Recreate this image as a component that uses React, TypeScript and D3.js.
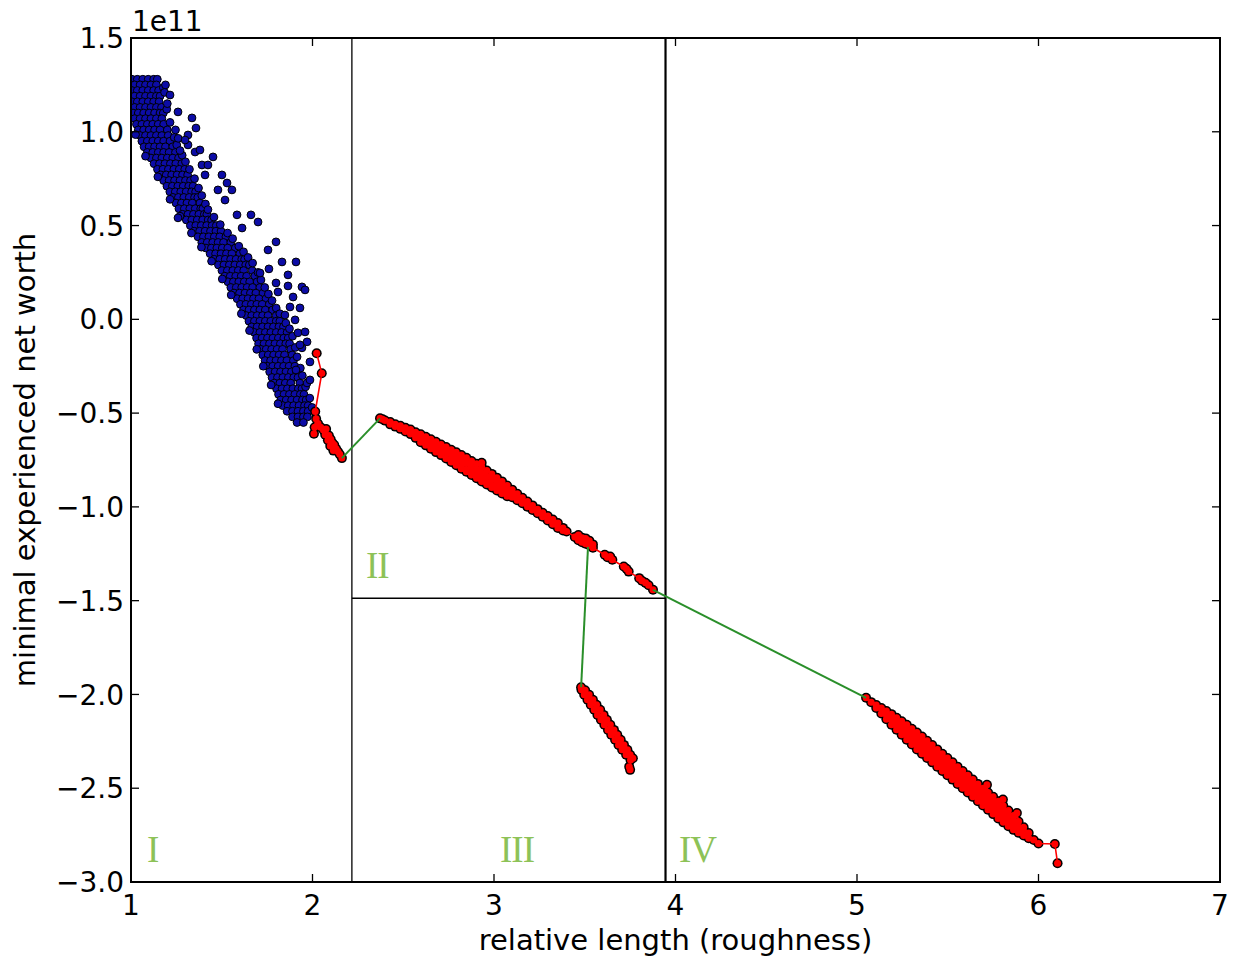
import React from 'react';
import * as d3 from 'd3';

// ---------- axes ----------
const xDomain: [number, number] = [1, 7];
const yDomain: [number, number] = [-3, 1.5];
const xTicks = [1, 2, 3, 4, 5, 6, 7];
const yTicks = [1.5, 1.0, 0.5, 0.0, -0.5, -1.0, -1.5, -2.0, -2.5, -3.0];
const offsetText = '1e11';
const xLabel = 'relative length (roughness)';
const yLabel = 'minimal experienced net worth';

// region boundaries (data units)
const boundaryX = [2.217, 3.945];
const boundaryY = -1.487;
const regionLabels: { text: string; x: number; y: number }[] = [
  { text: 'I', x: 1.088, y: -2.892 },
  { text: 'II', x: 2.295, y: -1.378 },
  { text: 'III', x: 3.033, y: -2.892 },
  { text: 'IV', x: 4.019, y: -2.892 },
];

// ---------- blue scatter (y, list of x) ----------
const blueRows: [number, number[]][] = [
  [1.28, [1.005, 1.035, 1.065, 1.095, 1.125, 1.145]],
  [1.25, [1.02, 1.05, 1.08, 1.11, 1.14]],
  [1.22, [1.005, 1.035, 1.065, 1.095, 1.125, 1.152]],
  [1.19, [1.02, 1.05, 1.08, 1.11, 1.14, 1.16]],
  [1.16, [1.005, 1.035, 1.065, 1.095, 1.125, 1.155]],
  [1.13, [1.02, 1.05, 1.08, 1.11, 1.14, 1.168]],
  [1.10, [1.011, 1.04, 1.07, 1.10, 1.13, 1.16, 1.178]],
  [1.07, [1.02, 1.05, 1.08, 1.11, 1.14, 1.17]],
  [1.04, [1.03, 1.06, 1.09, 1.12, 1.15, 1.18]],
  [1.01, [1.04, 1.07, 1.10, 1.13, 1.16, 1.20]],
  [0.98, [1.05, 1.08, 1.11, 1.14, 1.17, 1.205]],
  [0.95, [1.06, 1.09, 1.12, 1.15, 1.18, 1.215]],
  [0.92, [1.072, 1.10, 1.13, 1.16, 1.19, 1.23]],
  [0.89, [1.09, 1.12, 1.15, 1.18, 1.21, 1.245]],
  [0.86, [1.11, 1.14, 1.17, 1.20, 1.23, 1.262]],
  [0.83, [1.127, 1.157, 1.187, 1.217, 1.247, 1.28]],
  [0.80, [1.146, 1.176, 1.206, 1.236, 1.266, 1.296]],
  [0.77, [1.164, 1.194, 1.224, 1.254, 1.284, 1.312]],
  [0.74, [1.18, 1.21, 1.24, 1.27, 1.30, 1.328]],
  [0.71, [1.198, 1.228, 1.258, 1.288, 1.318, 1.342]],
  [0.68, [1.214, 1.244, 1.274, 1.304, 1.334, 1.356]],
  [0.65, [1.231, 1.261, 1.291, 1.321, 1.35, 1.368]],
  [0.62, [1.248, 1.278, 1.308, 1.338, 1.38]],
  [0.59, [1.264, 1.294, 1.324, 1.354, 1.384, 1.396]],
  [0.56, [1.284, 1.314, 1.344, 1.374, 1.404, 1.418]],
  [0.53, [1.305, 1.335, 1.365, 1.395, 1.425, 1.444]],
  [0.50, [1.327, 1.357, 1.387, 1.417, 1.447, 1.47]],
  [0.47, [1.348, 1.378, 1.408, 1.438, 1.468, 1.496]],
  [0.44, [1.369, 1.399, 1.429, 1.459, 1.489, 1.523]],
  [0.41, [1.39, 1.42, 1.45, 1.48, 1.51, 1.55]],
  [0.38, [1.413, 1.443, 1.473, 1.503, 1.533, 1.575]],
  [0.35, [1.436, 1.466, 1.496, 1.526, 1.556, 1.60]],
  [0.32, [1.459, 1.489, 1.519, 1.549, 1.579, 1.61, 1.626]],
  [0.29, [1.482, 1.512, 1.542, 1.572, 1.602, 1.632, 1.652]],
  [0.26, [1.501, 1.531, 1.561, 1.591, 1.621, 1.668]],
  [0.23, [1.517, 1.547, 1.577, 1.607, 1.637, 1.682]],
  [0.20, [1.534, 1.564, 1.594, 1.624, 1.654, 1.695]],
  [0.17, [1.55, 1.58, 1.61, 1.64, 1.67, 1.71]],
  [0.14, [1.568, 1.598, 1.628, 1.658, 1.688, 1.727]],
  [0.11, [1.585, 1.615, 1.645, 1.675, 1.705, 1.744]],
  [0.08, [1.603, 1.633, 1.663, 1.693, 1.723, 1.762]],
  [0.05, [1.62, 1.65, 1.68, 1.71, 1.74, 1.78]],
  [0.02, [1.635, 1.665, 1.695, 1.725, 1.755, 1.80]],
  [-0.01, [1.65, 1.68, 1.71, 1.74, 1.77, 1.80, 1.82]],
  [-0.04, [1.665, 1.695, 1.725, 1.755, 1.785, 1.815, 1.84]],
  [-0.07, [1.68, 1.71, 1.74, 1.77, 1.80, 1.83, 1.86]],
  [-0.10, [1.692, 1.722, 1.752, 1.782, 1.812, 1.842, 1.866]],
  [-0.13, [1.703, 1.733, 1.763, 1.793, 1.823, 1.853, 1.874]],
  [-0.16, [1.715, 1.745, 1.775, 1.805, 1.835, 1.88]],
  [-0.19, [1.726, 1.756, 1.786, 1.816, 1.846, 1.888]],
  [-0.22, [1.739, 1.769, 1.799, 1.829, 1.859, 1.895]],
  [-0.25, [1.751, 1.781, 1.811, 1.841, 1.871, 1.903]],
  [-0.28, [1.764, 1.794, 1.824, 1.854, 1.884, 1.912]],
  [-0.31, [1.777, 1.807, 1.837, 1.867, 1.897, 1.92]],
  [-0.34, [1.79, 1.82, 1.85, 1.88, 1.93]],
  [-0.37, [1.802, 1.832, 1.862, 1.892, 1.922, 1.942]],
  [-0.40, [1.813, 1.843, 1.873, 1.903, 1.933, 1.953]],
  [-0.43, [1.825, 1.855, 1.885, 1.915, 1.945, 1.965]],
  [-0.46, [1.836, 1.866, 1.896, 1.926, 1.956, 1.976]],
  [-0.49, [1.86, 1.89, 1.92, 1.95, 1.976]],
  [-0.52, [1.89, 1.92, 1.95, 1.972]],
  [-0.55, [1.915, 1.95]],
];

// ragged edge points of the blue cloud [x, y]
const blueEdgeRight: [number, number][] = [
  [1.178, 1.235], [1.197, 1.12], [1.215, 1.05], [1.238, 0.97], [1.252, 0.93], [1.282, 0.875],
  [1.322, 0.80], [1.35, 0.75], [1.372, 0.70], [1.39, 0.66], [1.41, 0.615], [1.424, 0.585],
  [1.457, 0.545], [1.492, 0.505], [1.532, 0.46], [1.56, 0.43], [1.594, 0.39], [1.62, 0.36],
  [1.645, 0.33], [1.67, 0.30], [1.70, 0.25], [1.716, 0.21], [1.737, 0.17], [1.757, 0.135],
  [1.777, 0.10], [1.80, 0.06], [1.82, 0.03], [1.853, -0.02], [1.873, -0.05], [1.89, -0.09],
  [1.905, -0.15], [1.915, -0.20], [1.933, -0.26], [1.944, -0.30], [1.962, -0.36], [1.985, -0.42],
  [1.998, -0.47],
];
const blueEdgeLeft: [number, number][] = [
  [1.025, 0.985], [1.08, 0.87], [1.148, 0.76], [1.215, 0.64], [1.27, 0.55], [1.333, 0.46],
  [1.388, 0.385], [1.444, 0.31], [1.503, 0.215], [1.552, 0.13], [1.608, 0.03], [1.653, -0.06],
  [1.693, -0.16], [1.729, -0.25], [1.772, -0.35], [1.81, -0.45],
];
const blueOutliers: [number, number][] = [
  [1.19, 1.25], [1.20, 1.15], [1.185, 1.21], [1.245, 1.01], [1.26, 0.965], [1.30, 0.84], [1.27, 0.90],
  [1.336, 1.074], [1.314, 0.983], [1.314, 0.930], [1.353, 0.892], [1.452, 0.866], [1.391, 0.823],
  [1.408, 0.770], [1.501, 0.770], [1.529, 0.727], [1.584, 0.557], [1.661, 0.557], [1.259, 0.541],
  [1.799, 0.413], [1.760, 0.269], [1.711, 0.247], [1.799, 0.194], [1.865, 0.178], [1.942, 0.173],
  [1.810, 0.146], [1.893, 0.119], [1.931, 0.061], [1.876, 0.066], [1.904, -0.003], [1.920, -0.072],
  [1.959, -0.067], [1.970, -0.120], [1.942, -0.152], [1.986, -0.227], [1.970, -0.339],
  [1.259, 1.106], [1.215, 1.196], [1.298, 0.956], [1.358, 1.020], [1.380, 0.903], [1.424, 0.823],
  [1.479, 0.690], [1.518, 0.636], [1.556, 0.690], [1.612, 0.487], [1.700, 0.519], [1.755, 0.370],
  [1.832, 0.306], [1.865, 0.237], [1.909, 0.306], [1.959, 0.157], [1.848, 0.023], [1.931, -0.136],
  [1.909, -0.270], [1.986, -0.323],
];

// ---------- red trajectories ----------
const clusterI: [number, number][] = [
  [2.023, -0.181], [2.051, -0.287], [2.015, -0.492], [2.020, -0.530], [2.012, -0.575], [2.008, -0.610],
  [2.030, -0.555], [2.045, -0.575], [2.060, -0.590], [2.075, -0.585], [2.070, -0.615], [2.090, -0.620],
  [2.085, -0.645], [2.100, -0.640], [2.110, -0.660], [2.098, -0.675], [2.120, -0.670], [2.130, -0.690],
  [2.115, -0.700], [2.140, -0.705], [2.150, -0.720], [2.162, -0.740],
];

// columns: [x, ys]
const clusterII: [number, number[]][] = [
  [2.372, [-0.528]], [2.386, [-0.533]], [2.400, [-0.540]],
  [2.428, [-0.548, -0.560]], [2.456, [-0.560, -0.572]], [2.484, [-0.567, -0.584]],
  [2.512, [-0.578, -0.598]], [2.540, [-0.588, -0.612]], [2.568, [-0.602, -0.632]],
  [2.596, [-0.613, -0.634, -0.655]], [2.624, [-0.626, -0.649, -0.672]], [2.652, [-0.640, -0.665, -0.690]],
  [2.680, [-0.653, -0.680, -0.708]], [2.708, [-0.667, -0.695, -0.724]], [2.736, [-0.681, -0.711, -0.742]],
  [2.764, [-0.695, -0.721, -0.747, -0.760]], [2.792, [-0.709, -0.737, -0.765, -0.778]],
  [2.820, [-0.723, -0.753, -0.783, -0.796]], [2.848, [-0.738, -0.769, -0.800, -0.813]],
  [2.876, [-0.755, -0.786, -0.817, -0.830]], [2.904, [-0.770, -0.802, -0.834, -0.847]],
  [2.932, [-0.765, -0.787, -0.819, -0.851, -0.864]], [2.960, [-0.806, -0.837, -0.868, -0.881]],
  [2.988, [-0.824, -0.854, -0.884, -0.897]], [3.016, [-0.844, -0.872, -0.900, -0.913]],
  [3.044, [-0.864, -0.890, -0.916, -0.928]], [3.072, [-0.886, -0.909, -0.932, -0.943]],
  [3.100, [-0.908, -0.928, -0.948]], [3.128, [-0.930, -0.947, -0.964]], [3.156, [-0.951, -0.981]],
  [3.184, [-0.971, -0.999]], [3.212, [-0.992, -1.016]], [3.240, [-1.012, -1.034]],
  [3.268, [-1.031, -1.053]], [3.296, [-1.049, -1.073]], [3.324, [-1.067, -1.093]],
  [3.352, [-1.086, -1.112]], [3.380, [-1.112, -1.126]], [3.400, [-1.131]],
  [3.445, [-1.160]], [3.465, [-1.150, -1.178]], [3.485, [-1.165, -1.188]], [3.505, [-1.168, -1.196]],
  [3.525, [-1.180, -1.205]], [3.545, [-1.200, -1.218]],
  [3.610, [-1.255]], [3.625, [-1.268]], [3.640, [-1.265]], [3.652, [-1.282]],
  [3.715, [-1.318]], [3.730, [-1.330]], [3.742, [-1.345]],
  [3.800, [-1.380]], [3.815, [-1.394]], [3.835, [-1.405]], [3.852, [-1.418]], [3.876, [-1.442]],
];

const clusterIII: [number, number][] = [
  [3.480, -1.962], [3.482, -1.975], [3.502, -1.978],
  [3.497, -2.002], [3.524, -2.002], [3.515, -2.028], [3.545, -2.028],
  [3.533, -2.055], [3.565, -2.055], [3.552, -2.082], [3.585, -2.082],
  [3.570, -2.109], [3.604, -2.109], [3.589, -2.135], [3.622, -2.135],
  [3.608, -2.162], [3.641, -2.162], [3.628, -2.189], [3.661, -2.189],
  [3.646, -2.215], [3.679, -2.215], [3.667, -2.242], [3.698, -2.242],
  [3.686, -2.269], [3.716, -2.269], [3.706, -2.295], [3.735, -2.295],
  [3.728, -2.322], [3.750, -2.322], [3.752, -2.349], [3.765, -2.340],
  [3.745, -2.385], [3.750, -2.402],
];

const clusterIV: [number, number[]][] = [
  [5.050, [-2.018]], [5.078, [-2.041]], [5.106, [-2.056, -2.072]], [5.134, [-2.072, -2.102]],
  [5.162, [-2.088, -2.110, -2.132]], [5.190, [-2.105, -2.133, -2.161]],
  [5.218, [-2.124, -2.145, -2.167, -2.188]], [5.246, [-2.143, -2.167, -2.191, -2.215]],
  [5.274, [-2.162, -2.189, -2.215, -2.242]], [5.302, [-2.183, -2.211, -2.239, -2.267]],
  [5.330, [-2.203, -2.225, -2.248, -2.270, -2.293]], [5.358, [-2.224, -2.247, -2.270, -2.293, -2.316]],
  [5.386, [-2.247, -2.270, -2.293, -2.316, -2.339]], [5.414, [-2.270, -2.293, -2.316, -2.339, -2.362]],
  [5.442, [-2.293, -2.316, -2.339, -2.362, -2.385]], [5.470, [-2.316, -2.339, -2.362, -2.385, -2.408]],
  [5.498, [-2.339, -2.362, -2.385, -2.408, -2.431]], [5.526, [-2.362, -2.385, -2.408, -2.431, -2.454]],
  [5.554, [-2.385, -2.408, -2.431, -2.454, -2.477]], [5.582, [-2.408, -2.431, -2.454, -2.477, -2.500]],
  [5.610, [-2.431, -2.454, -2.477, -2.500, -2.523]], [5.638, [-2.454, -2.477, -2.500, -2.523, -2.546]],
  [5.666, [-2.477, -2.500, -2.523, -2.546, -2.569]], [5.694, [-2.500, -2.523, -2.546, -2.569, -2.592]],
  [5.716, [-2.482]],
  [5.722, [-2.523, -2.546, -2.569, -2.592, -2.615]], [5.750, [-2.546, -2.569, -2.592, -2.615, -2.638]],
  [5.778, [-2.569, -2.592, -2.615, -2.638, -2.661]], [5.804, [-2.560]],
  [5.806, [-2.594, -2.616, -2.638, -2.660, -2.682]], [5.834, [-2.619, -2.647, -2.675, -2.703]],
  [5.862, [-2.646, -2.671, -2.697, -2.722]], [5.881, [-2.632]], [5.890, [-2.677, -2.707, -2.737]],
  [5.918, [-2.708, -2.730, -2.752]], [5.946, [-2.739, -2.767]], [5.974, [-2.776]], [6.000, [-2.795]],
  [6.090, [-2.797]], [6.105, [-2.900]],
];

// green connectors
const connectors: [number, number][][] = [
  [[2.162, -0.740], [2.372, -0.528]],
  [[3.518, -1.213], [3.480, -1.962]],
  [[3.876, -1.442], [5.050, -2.018]],
];

const W = 1233;
const H = 961;
const M = { left: 131, right: 1220, top: 38, bottom: 882 };
const FONT = 'DejaVu Sans, sans-serif';

function flatten(cols: [number, number[]][]): [number, number][] {
  const out: [number, number][] = [];
  cols.forEach(([cx, ys]) => ys.forEach((cy) => out.push([cx, cy])));
  return out;
}

export default function App() {
  const x = d3.scaleLinear().domain(xDomain).range([M.left, M.right]);
  const y = d3.scaleLinear().domain(yDomain).range([M.bottom, M.top]);
  const line = d3
    .line<[number, number]>()
    .x((d) => x(d[0]))
    .y((d) => y(d[1]));

  const bluePts: [number, number][] = [];
  blueRows.forEach(([ry, xs]) => xs.forEach((rx) => bluePts.push([rx, ry])));
  blueEdgeRight.forEach((p) => bluePts.push(p));
  blueEdgeLeft.forEach((p) => bluePts.push(p));
  blueOutliers.forEach((p) => bluePts.push(p));

  const redSets: [number, number][][] = [clusterI, flatten(clusterII), clusterIII, flatten(clusterIV)];
  const fmt = (v: number) => (v < 0 ? '\u2212' : '') + Math.abs(v).toFixed(1);
  const tickLen = 8;

  return (
    <svg
      width={W}
      height={H}
      style={{ position: 'absolute', left: 0, top: 0, background: '#fff' }}
      fontFamily={FONT}
    >
      <defs>
        <clipPath id="plot">
          <rect x={M.left} y={M.top} width={M.right - M.left} height={M.bottom - M.top} />
        </clipPath>
      </defs>
      <rect x={0} y={0} width={W} height={H} fill="#fff" />

      {/* region boundaries */}
      <line x1={x(boundaryX[0])} x2={x(boundaryX[0])} y1={M.top} y2={M.bottom} stroke="#000" strokeWidth={1.3} />
      <line x1={x(boundaryX[1])} x2={x(boundaryX[1])} y1={M.top} y2={M.bottom} stroke="#000" strokeWidth={2.2} />
      <line x1={x(boundaryX[0])} x2={x(boundaryX[1])} y1={y(boundaryY)} y2={y(boundaryY)} stroke="#000" strokeWidth={1.3} />

      <g clipPath="url(#plot)">
        {/* blue scatter */}
        {bluePts.map((p, i) => (
          <circle key={'b' + i} cx={x(p[0])} cy={y(p[1])} r={3.9} fill="#0c0ca6" stroke="#000" strokeWidth={1} />
        ))}
        {/* red clusters: outline layer, trajectory line, face layer */}
        {redSets.map((s, k) => (
          <g key={'o' + k}>
            {s.map((p, i) => (
              <circle key={i} cx={x(p[0])} cy={y(p[1])} r={5} fill="#000" />
            ))}
          </g>
        ))}
        {redSets.map((s, k) => (
          <path key={'l' + k} d={line(s) || ''} fill="none" stroke="#ff0000" strokeWidth={1.6} />
        ))}
        {redSets.map((s, k) => (
          <g key={'f' + k}>
            {s.map((p, i) => (
              <circle key={i} cx={x(p[0])} cy={y(p[1])} r={3.5} fill="#ff0000" />
            ))}
          </g>
        ))}
        {/* green connectors */}
        {connectors.map((c, i) => (
          <path key={'g' + i} d={line(c) || ''} fill="none" stroke="#2a8f2a" strokeWidth={2} />
        ))}
      </g>

      {/* region labels */}
      {regionLabels.map((r) => (
        <text
          key={r.text}
          x={x(r.x)}
          y={y(r.y)}
          fontFamily="Liberation Serif, serif"
          fontSize={37}
          letterSpacing={-1}
          fill="#8dc257"
        >
          {r.text}
        </text>
      ))}

      {/* frame */}
      <rect
        x={M.left}
        y={M.top}
        width={M.right - M.left}
        height={M.bottom - M.top}
        fill="none"
        stroke="#000"
        strokeWidth={2}
      />

      {/* ticks */}
      {xTicks.map((t) => (
        <g key={'xt' + t}>
          <line x1={x(t)} x2={x(t)} y1={M.bottom} y2={M.bottom - tickLen} stroke="#000" strokeWidth={1.3} />
          <line x1={x(t)} x2={x(t)} y1={M.top} y2={M.top + tickLen} stroke="#000" strokeWidth={1.3} />
          <text x={x(t)} y={915} textAnchor="middle" fontSize={28} fill="#000">
            {String(t)}
          </text>
        </g>
      ))}
      {yTicks.map((t) => (
        <g key={'yt' + t}>
          <line x1={M.left} x2={M.left + tickLen} y1={y(t)} y2={y(t)} stroke="#000" strokeWidth={1.3} />
          <line x1={M.right} x2={M.right - tickLen} y1={y(t)} y2={y(t)} stroke="#000" strokeWidth={1.3} />
          <text x={M.left - 7} y={y(t)} dy="0.36em" textAnchor="end" fontSize={28} fill="#000">
            {fmt(t)}
          </text>
        </g>
      ))}

      <text x={M.left + 1} y={31} fontSize={28} fill="#000">
        {offsetText}
      </text>
      <text x={(M.left + M.right) / 2} y={950} textAnchor="middle" fontSize={29} fill="#000">
        {xLabel}
      </text>
      <text
        transform={`translate(35,${(M.top + M.bottom) / 2}) rotate(-90)`}
        textAnchor="middle"
        fontSize={29}
        fill="#000"
      >
        {yLabel}
      </text>
    </svg>
  );
}
